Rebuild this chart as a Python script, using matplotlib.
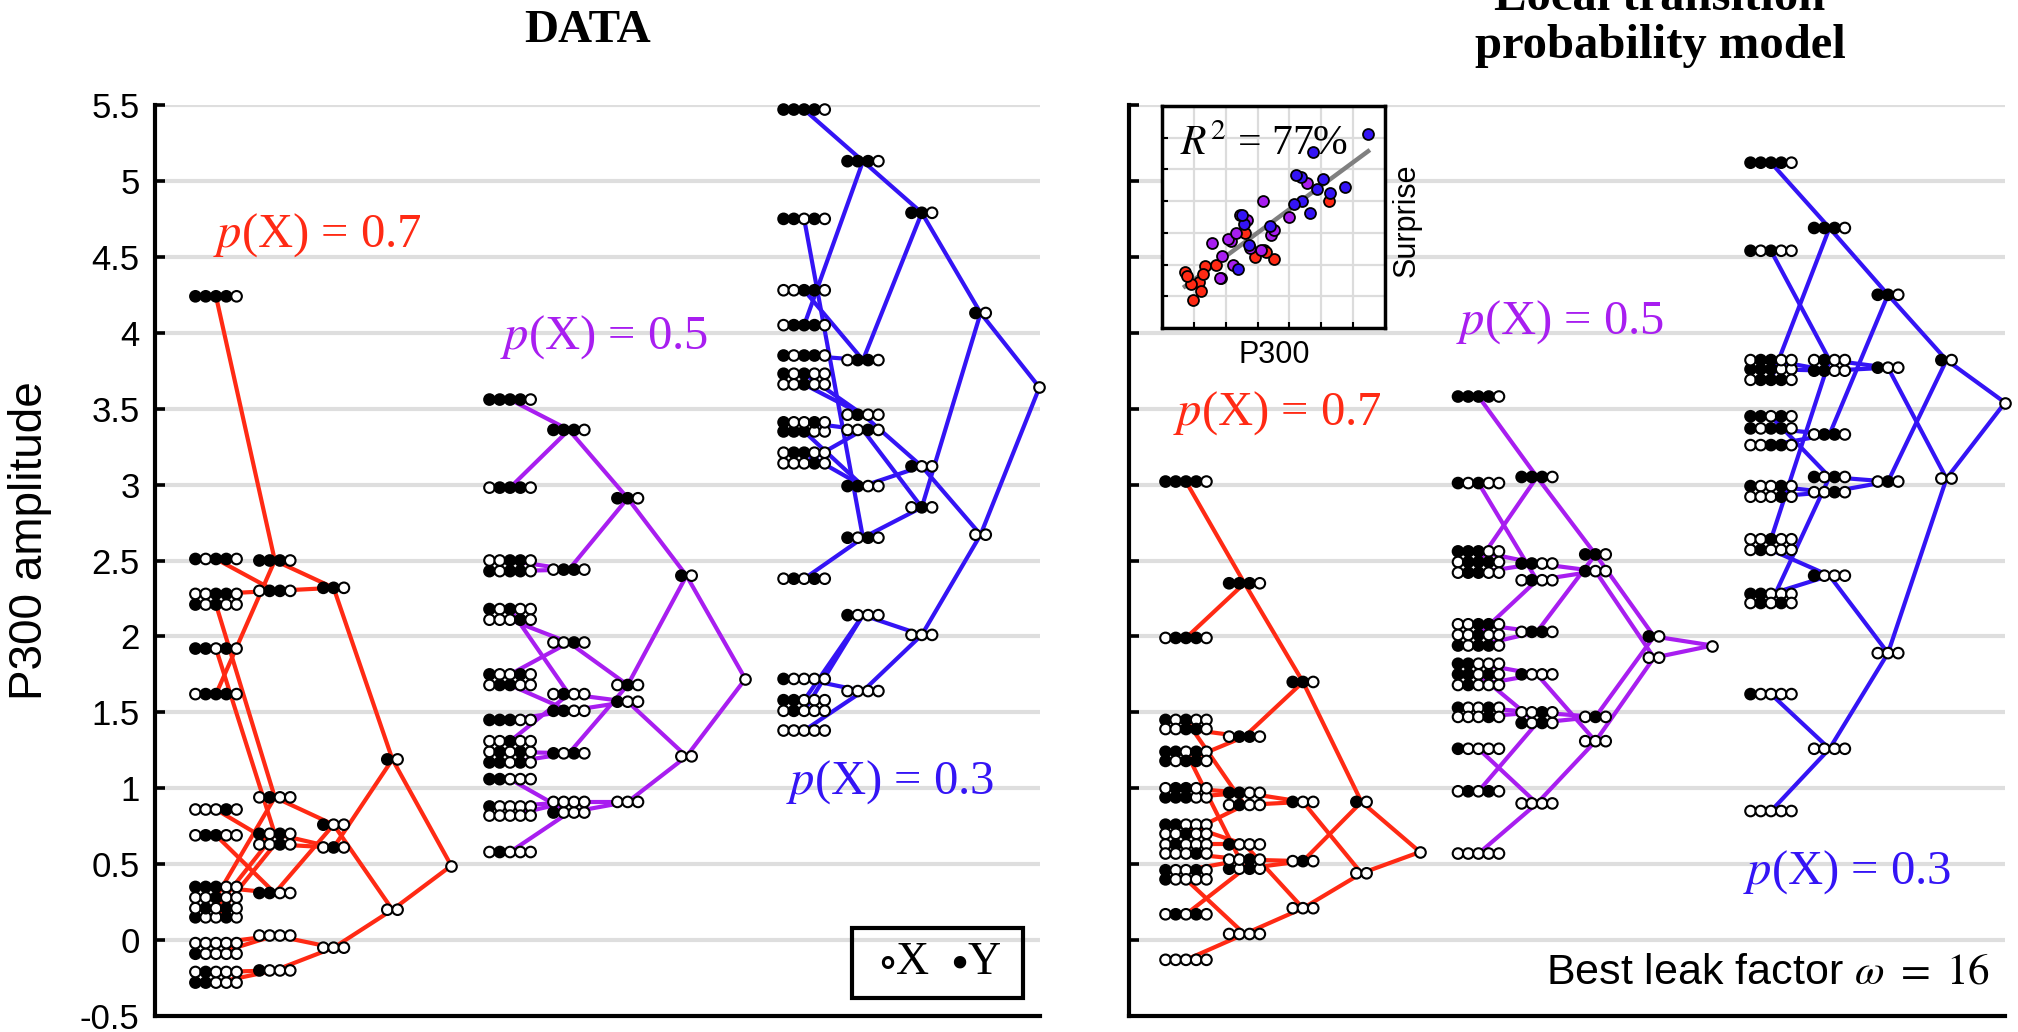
import itertools
import numpy as np
import matplotlib.pyplot as plt
from matplotlib.patches import Rectangle

plt.rcParams['font.family'] = ['Liberation Sans', 'DejaVu Sans']
plt.rcParams['mathtext.fontset'] = 'stix'

# Histories preceding the current X: 4, 3, 2, 1 and 0 previous stimuli
HIST = [''.join(p) for n in (4, 3, 2, 1) for p in itertools.product('YX', repeat=n)] + ['']

# P300 amplitude for every history (order of HIST)
data_p07 = [4.24, 0.35, 1.92, -0.28, 2.51, 2.21, 0.15, -0.09, 1.62, 0.69, 0.21, -0.21, 2.28, 0.28, 0.86, -0.02,
            2.50, 0.31, 0.70, -0.20, 2.30, 0.94, 0.63, 0.03,
            2.32, 0.76, 0.61, -0.05,
            1.19, 0.20,
            0.49]
data_p05 = [3.56, 1.45, 1.17, 1.06, 2.43, 2.18, 1.75, 0.88, 2.98, 1.68, 1.24, 0.58, 2.50, 1.31, 2.11, 0.82,
            3.36, 1.51, 1.23, 0.84, 2.44, 1.62, 1.96, 0.91,
            2.91, 1.57, 1.68, 0.91,
            2.40, 1.21,
            1.72]
data_p03 = [5.47, 3.35, 4.75, 1.58, 3.85, 3.73, 3.41, 1.72, 4.05, 3.21, 2.38, 1.51, 4.28, 3.66, 3.14, 1.38,
            5.13, 2.99, 2.65, 2.14, 3.82, 3.46, 3.36, 1.64,
            4.79, 3.12, 2.85, 2.01,
            4.13, 2.67,
            3.64]

# surprise of the local transition probability model, scaled to P300 units
model_p07 = [3.02, 0.94, 1.24, 0.76, 1.18, 1.45, 0.46, 0.40, 1.99, 1.00, 0.17, 0.63, 1.39, 0.70, 0.57, -0.13,
             2.35, 0.97, 0.47, 0.63, 1.34, 0.89, 0.53, 0.04,
             1.70, 0.91, 0.52, 0.21,
             0.91, 0.44,
             0.58]
model_p05 = [3.58, 2.56, 1.75, 1.82, 1.94, 3.01, 1.53, 1.26, 2.49, 2.42, 0.98, 1.68, 2.08, 2.01, 1.47, 0.57,
             3.05, 2.48, 1.43, 1.75, 2.03, 2.37, 1.50, 0.90,
             2.54, 2.43, 1.47, 1.31,
             2.00, 1.86,
             1.94]
model_p03 = [5.12, 3.76, 3.45, 2.28, 3.37, 4.54, 2.99, 1.62, 3.69, 3.82, 2.22, 2.57, 3.26, 2.64, 2.92, 0.85,
             4.69, 3.75, 3.05, 2.40, 3.33, 3.82, 2.95, 1.26,
             4.25, 3.77, 3.02, 1.89,
             3.82, 3.04,
             3.54]

p_labels = ['0.7', '0.5', '0.3']
colors = ['#ff2a14', '#a81ef0', '#3414f5']
yticks = np.arange(-0.5, 5.51, 0.5)
serif = ['Liberation Serif', 'DejaVu Serif']

DOT_STEP = 0.175


def draw_tree(ax, values, x0, color):
    pos = {h: (x0 + 4 - len(h), v) for h, v in zip(HIST, values)}
    # links from each history to its shorter suffix
    for h, (x, y) in pos.items():
        if h:
            px, py = pos[h[1:]]
            ax.plot([x, px], [y, py], color=color, lw=3.0, zorder=2,
                    solid_capstyle='round', clip_on=False)
    for h, (x, y) in pos.items():
        seq = h + 'X'
        n = len(seq)
        offs = (np.arange(n) - (n - 1) / 2) * DOT_STEP
        fc = ['k' if s == 'Y' else 'w' for s in seq]
        ax.scatter(x + offs, [y] * n, s=58, c=fc, edgecolors='k',
                   linewidths=1.5, zorder=3, clip_on=False)


def style_axes(ax, xlim, labels):
    ax.set_xlim(*xlim)
    ax.set_ylim(-0.5, 5.5)
    for y in yticks[1:]:
        ax.axhline(y, color='#dedede', lw=3.0, zorder=0)
    for s in ['top', 'right']:
        ax.spines[s].set_visible(False)
    for s in ['left', 'bottom']:
        ax.spines[s].set_linewidth(3)
    ax.set_xticks([])
    ax.set_yticks(yticks)
    if labels:
        ax.set_yticklabels(['%g' % v for v in yticks], fontsize=25)
    else:
        ax.set_yticklabels([])
    ax.tick_params(axis='y', direction='in', length=7, width=2.6, pad=11)


fig = plt.figure(figsize=(20.18, 10.32), dpi=100)
W, H = 2018, 1032

ax1 = fig.add_axes([155 / W, 16 / H, 885 / W, 911 / H])
ax2 = fig.add_axes([1129 / W, 16 / H, 876 / W, 911 / H])
style_axes(ax1, (-1.037, 14.01), True)
style_axes(ax2, (-0.974, 14.0), False)

for i, (vals, c) in enumerate(zip([data_p07, data_p05, data_p03], colors)):
    draw_tree(ax1, vals, 5 * i, c)
for i, (vals, c) in enumerate(zip([model_p07, model_p05, model_p03], colors)):
    draw_tree(ax2, vals, 5 * i, c)

# condition labels
for ax, spots in [(ax1, [(1.73, 4.64), (6.6, 3.97), (11.46, 1.04)]),
                  (ax2, [(1.57, 3.47), (6.39, 4.07), (11.3, 0.45)])]:
    for (x, y), p, c in zip(spots, p_labels, colors):
        ax.text(x, y, r'$p$(X) = %s' % p, family=serif, color=c, fontsize=35,
                ha='center', va='center')

fig.text(30 / W, 1 - 541 / H, 'P300 amplitude', rotation=90, fontsize=33,
         ha='center', va='center')

# titles
fig.text(588 / W, 1 - 42 / H, 'DATA', family=serif, weight='bold', fontsize=34,
         ha='center', va='baseline')
fig.text(1660 / W, 1 - 10 / H, 'Local transition', family=serif, weight='bold',
         fontsize=35, ha='center', va='baseline')
fig.text(1660 / W, 1 - 58 / H, 'probability model', family=serif, weight='bold',
         fontsize=35, ha='center', va='baseline')

# legend box
fig.patches.append(Rectangle((852 / W, 1 - 998 / H), 171 / W, 70 / H, fill=False,
                             lw=3, ec='k', transform=fig.transFigure, zorder=5))
fig.text(940 / W, 1 - 963 / H, r'$\circ$X  $\bullet$Y', family=serif, fontsize=33,
         ha='center', va='center')

fig.text(1990 / W, 1 - 972 / H, r'Best leak factor $\omega\ =\ 16$', fontsize=31,
         ha='right', va='center')

# inset: leaf values of data vs model
axi = fig.add_axes([1162 / W, 1 - 328 / H, 223 / W, 222 / H])
axi.set_xlim(-1, 6)
axi.set_ylim(-1, 6)
axi.set_xticks(range(6))
axi.set_yticks(range(6))
axi.set_xticklabels([])
axi.set_yticklabels([])
axi.grid(True, color='#dcdcdc', lw=1.6)
axi.set_axisbelow(True)
axi.tick_params(direction='in', length=4, width=1.5)
for s in axi.spines.values():
    s.set_linewidth(2.5)
xs_all, ys_all = [], []
for dv, mv, c in zip([data_p07, data_p05, data_p03], [model_p07, model_p05, model_p03], colors):
    axi.scatter(dv[:16], mv[:16], s=62, c=c, edgecolors='k', linewidths=1.3, zorder=3)
    xs_all += dv[:16]
    ys_all += mv[:16]
slope, icpt = np.polyfit(xs_all, ys_all, 1)
xl = np.array([min(xs_all), max(xs_all)])
axi.plot(xl, slope * xl + icpt, color='#808080', lw=3.2, zorder=2)
axi.text(0.08, 0.78, r'$R^2$ = 77%', family=serif, transform=axi.transAxes, fontsize=30,
         ha='left', va='baseline')
fig.text(1407 / W, 1 - 220 / H, 'Surprise', rotation=90, fontsize=22, ha='center', va='center')
fig.text(1274 / W, 1 - 355 / H, 'P300', fontsize=22, ha='center', va='center')

fig.savefig('out.png', dpi=100)
